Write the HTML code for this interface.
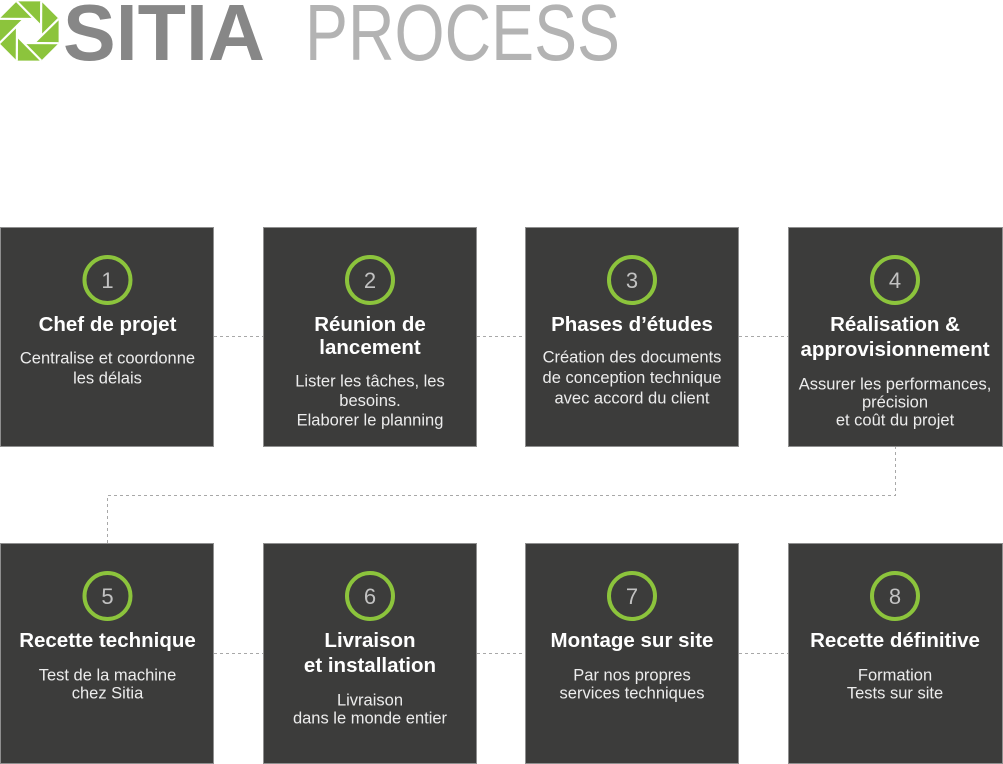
<!DOCTYPE html>
<html>
<head>
<meta charset="utf-8">
<style>
html,body{margin:0;padding:0;background:#fff;}
svg{display:block;}
.t{font-family:"Liberation Sans",sans-serif;font-weight:bold;font-size:20.5px;fill:#ffffff;text-anchor:middle;}
.d{font-family:"Liberation Sans",sans-serif;font-size:16.5px;fill:#ececec;text-anchor:middle;}
.n{font-family:"Liberation Sans",sans-serif;font-size:22px;fill:#c2c2c2;text-anchor:middle;}
.box{fill:#3c3c3b;stroke:#8f8f8f;stroke-width:1;}
.ring{fill:none;stroke:#8cc43c;stroke-width:4;}
.dash{stroke:#a8a8a8;stroke-width:1;stroke-dasharray:3,3;fill:none;}
</style>
</head>
<body>
<svg width="1003" height="764" viewBox="0 0 1003 764" xmlns="http://www.w3.org/2000/svg">
  <!-- Logo aperture -->
  <g>
    <polygon points="58.6,43.2 41.2,60.6 16.8,60.6 -0.6,43.2 -0.6,18.8 16.8,1.4 41.2,1.4 58.6,18.8" fill="#8cc43c"/>
    <polygon points="41,36 34,43 24,43 17,36 17,26 24,19 34,19 41,26" fill="#fff"/>
    <g stroke="#fff" stroke-width="2.2">
      <line x1="58.6" y1="43.2" x2="24" y2="43"/>
      <line x1="41.2" y1="60.6" x2="17" y2="36"/>
      <line x1="16.8" y1="60.6" x2="17" y2="26"/>
      <line x1="-0.6" y1="43.2" x2="24" y2="19"/>
      <line x1="-0.6" y1="18.8" x2="34" y2="19"/>
      <line x1="16.8" y1="1.4" x2="41" y2="26"/>
      <line x1="41.2" y1="1.4" x2="41" y2="36"/>
      <line x1="58.6" y1="18.8" x2="34" y2="43"/>
    </g>
  </g>
  <text x="63" y="60" font-family="Liberation Sans, sans-serif" font-weight="bold" font-size="80" fill="#878787" textLength="202" lengthAdjust="spacingAndGlyphs">SITIA</text>
  <text x="305" y="60" font-family="Liberation Sans, sans-serif" font-size="80" fill="#b3b3b3" textLength="315" lengthAdjust="spacingAndGlyphs">PROCESS</text>

  <!-- Connectors -->
  <line class="dash" x1="214" y1="336.5" x2="263" y2="336.5"/>
  <line class="dash" x1="477" y1="336.5" x2="525" y2="336.5"/>
  <line class="dash" x1="739" y1="336.5" x2="788" y2="336.5"/>
  <polyline class="dash" points="895.5,446 895.5,495.5 107.5,495.5 107.5,543"/>
  <line class="dash" x1="214" y1="653.5" x2="263" y2="653.5"/>
  <line class="dash" x1="477" y1="653.5" x2="525" y2="653.5"/>
  <line class="dash" x1="739" y1="653.5" x2="788" y2="653.5"/>

  <!-- Row 1 boxes -->
  <rect class="box" x="0.5" y="227.5" width="213" height="219"/>
  <rect class="box" x="263.5" y="227.5" width="213" height="219"/>
  <rect class="box" x="525.5" y="227.5" width="213" height="219"/>
  <rect class="box" x="788.5" y="227.5" width="214" height="219"/>
  <!-- Row 2 boxes -->
  <rect class="box" x="0.5" y="543.5" width="213" height="220"/>
  <rect class="box" x="263.5" y="543.5" width="213" height="220"/>
  <rect class="box" x="525.5" y="543.5" width="213" height="220"/>
  <rect class="box" x="788.5" y="543.5" width="214" height="220"/>

  <!-- Rings row 1 -->
  <circle class="ring" cx="107.5" cy="280" r="23"/>
  <circle class="ring" cx="370" cy="280" r="23"/>
  <circle class="ring" cx="632" cy="280" r="23"/>
  <circle class="ring" cx="895" cy="280" r="23"/>
  <text class="n" x="107.5" y="288">1</text>
  <text class="n" x="370" y="288">2</text>
  <text class="n" x="632" y="288">3</text>
  <text class="n" x="895" y="288">4</text>

  <!-- Rings row 2 -->
  <circle class="ring" cx="107.5" cy="596" r="23"/>
  <circle class="ring" cx="370" cy="596" r="23"/>
  <circle class="ring" cx="632" cy="596" r="23"/>
  <circle class="ring" cx="895" cy="596" r="23"/>
  <text class="n" x="107.5" y="604">5</text>
  <text class="n" x="370" y="604">6</text>
  <text class="n" x="632" y="604">7</text>
  <text class="n" x="895" y="604">8</text>

  <!-- Box 1 -->
  <text class="t" x="107.5" y="331">Chef de projet</text>
  <text class="d" x="107.5" y="363.5">Centralise et coordonne</text>
  <text class="d" x="107.5" y="383.5">les délais</text>

  <!-- Box 2 -->
  <text class="t" x="370" y="331">Réunion de</text>
  <text class="t" x="370" y="354">lancement</text>
  <text class="d" x="370" y="386.5">Lister les tâches, les</text>
  <text class="d" x="370" y="406">besoins.</text>
  <text class="d" x="370" y="425.5">Elaborer le planning</text>

  <!-- Box 3 -->
  <text class="t" x="632" y="331">Phases d’études</text>
  <text class="d" x="632" y="362.5">Création des documents</text>
  <text class="d" x="632" y="383">de conception technique</text>
  <text class="d" x="632" y="403.5">avec accord du client</text>

  <!-- Box 4 -->
  <text class="t" x="895" y="331">Réalisation &amp;</text>
  <text class="t" x="895" y="356">approvisionnement</text>
  <text class="d" x="895" y="389.5">Assurer les performances,</text>
  <text class="d" x="895" y="407.5">précision</text>
  <text class="d" x="895" y="425.5">et coût du projet</text>

  <!-- Box 5 -->
  <text class="t" x="107.5" y="647">Recette technique</text>
  <text class="d" x="107.5" y="680.5">Test de la machine</text>
  <text class="d" x="107.5" y="698.5">chez Sitia</text>

  <!-- Box 6 -->
  <text class="t" x="370" y="647">Livraison</text>
  <text class="t" x="370" y="672">et installation</text>
  <text class="d" x="370" y="705.5">Livraison</text>
  <text class="d" x="370" y="723.5">dans le monde entier</text>

  <!-- Box 7 -->
  <text class="t" x="632" y="647">Montage sur site</text>
  <text class="d" x="632" y="680.5">Par nos propres</text>
  <text class="d" x="632" y="698.5">services techniques</text>

  <!-- Box 8 -->
  <text class="t" x="895" y="647">Recette définitive</text>
  <text class="d" x="895" y="680.5">Formation</text>
  <text class="d" x="895" y="698.5">Tests sur site</text>
</svg>
</body>
</html>
